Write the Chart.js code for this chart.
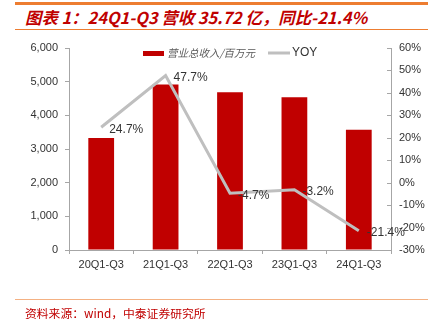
<!DOCTYPE html>
<html>
<head>
<meta charset="utf-8">
<script src="https://cdn.jsdelivr.net/npm/chart.js@4.4.0/dist/chart.umd.min.js"></script>
<style>
  body { margin: 0; background: #fff; }
  #wrap { position: relative; width: 436px; height: 324px; }
  #chart { position: absolute; left: 0; top: 0; }
  .rule { position: absolute; left: 15px; width: 413px; background: #ED7D31; }
  #title { position: absolute; left: 25px; top: 5px; font: italic bold 16.4px "Noto Sans CJK SC", sans-serif; color: #C00000; white-space: nowrap; }
  #source { position: absolute; left: 25px; top: 304px; font: 11.8px "Noto Sans CJK SC", sans-serif; color: #C00000; white-space: nowrap; }
</style>
</head>
<body>
<div id="wrap">
  <div class="rule" style="top:2px;height:3px"></div>
  <div id="title">图表 1：24Q1-Q3 营收 35.72 亿，同比-21.4%</div>
  <div class="rule" style="top:29px;height:1px"></div>
  <canvas id="chart" width="436" height="324"></canvas>
  <div class="rule" style="top:299px;height:1px;background:#F4B183"></div>
  <div id="source">资料来源：wind，中泰证券研究所</div>
</div>
<script>
const categories = ['20Q1-Q3', '21Q1-Q3', '22Q1-Q3', '23Q1-Q3', '24Q1-Q3'];
const revenue = [3330, 4918, 4687, 4537, 3572];
const yoy = [24.7, 47.7, -4.7, -3.2, -21.4];

const axisColor = '#A6A6A6';
const tickFont = { family: '"Liberation Sans", Arial, sans-serif', size: 11 };

// labels next to the YOY points, inward ticks on the right axis, and the legend
const extras = {
  id: 'extras',
  afterDatasetsDraw(chart) {
    const ctx = chart.ctx;
    const meta = chart.getDatasetMeta(1);
    ctx.save();
    ctx.font = '12px "Liberation Sans", Arial, sans-serif';
    ctx.fillStyle = '#333';
    ctx.textAlign = 'left';
    ctx.textBaseline = 'middle';
    meta.data.forEach((pt, i) => {
      ctx.fillText(yoy[i].toFixed(1) + '%', pt.x + 8, pt.y + 2);
    });

    const y1 = chart.scales.y1;
    ctx.strokeStyle = axisColor;
    ctx.lineWidth = 1;
    y1.ticks.forEach(t => {
      const yy = Math.round(y1.getPixelForValue(t.value)) + 0.5;
      ctx.beginPath();
      ctx.moveTo(y1.left - 4, yy);
      ctx.lineTo(y1.left, yy);
      ctx.stroke();
    });

    // legend
    ctx.fillStyle = '#C00000';
    ctx.fillRect(143, 51, 21, 5);
    ctx.font = 'italic 10.5px "Noto Sans CJK SC", sans-serif';
    ctx.fillStyle = '#595959';
    ctx.fillText('营业总收入/百万元', 167, 53);
    ctx.strokeStyle = '#BFBFBF';
    ctx.lineWidth = 3;
    ctx.beginPath();
    ctx.moveTo(268, 53);
    ctx.lineTo(290, 53);
    ctx.stroke();
    ctx.font = '12px "Liberation Sans", Arial, sans-serif';
    ctx.fillStyle = '#333';
    ctx.fillText('YOY', 292, 53);
    ctx.restore();
  }
};

new Chart(document.getElementById('chart'), {
  type: 'bar',
  data: {
    labels: categories,
    datasets: [
      {
        label: '营业总收入/百万元',
        data: revenue,
        backgroundColor: '#C00000',
        yAxisID: 'y',
        categoryPercentage: 1,
        barPercentage: 0.4,
        order: 2
      },
      {
        type: 'line',
        label: 'YOY',
        data: yoy,
        borderColor: '#BFBFBF',
        borderWidth: 3,
        pointRadius: 0,
        tension: 0,
        yAxisID: 'y1',
        order: 1
      }
    ]
  },
  options: {
    responsive: false,
    animation: false,
    layout: { padding: { top: 48, left: 0, right: 0, bottom: 0 } },
    plugins: { legend: { display: false }, tooltip: { enabled: false } },
    scales: {
      x: {
        afterFit(s) { s.height = 74; },
        border: { color: axisColor },
        grid: { drawOnChartArea: false, tickLength: 4, color: axisColor },
        ticks: { color: '#333', font: tickFont, padding: 4 }
      },
      y: {
        position: 'left',
        min: 0, max: 6000,
        afterFit(s) { s.width = 69; },
        border: { color: axisColor },
        grid: { drawOnChartArea: false, tickLength: 4, color: axisColor },
        ticks: {
          stepSize: 1000, color: '#333', font: tickFont, padding: 7,
          callback: v => v.toLocaleString('en-US')
        }
      },
      y1: {
        position: 'right',
        min: -30, max: 60,
        afterFit(s) { s.width = 45; },
        border: { color: axisColor },
        grid: { drawOnChartArea: false, drawTicks: false },
        ticks: { stepSize: 10, color: '#333', font: tickFont, padding: 8, callback: v => v + '%' }
      }
    }
  },
  plugins: [extras]
});
</script>
</body>
</html>
